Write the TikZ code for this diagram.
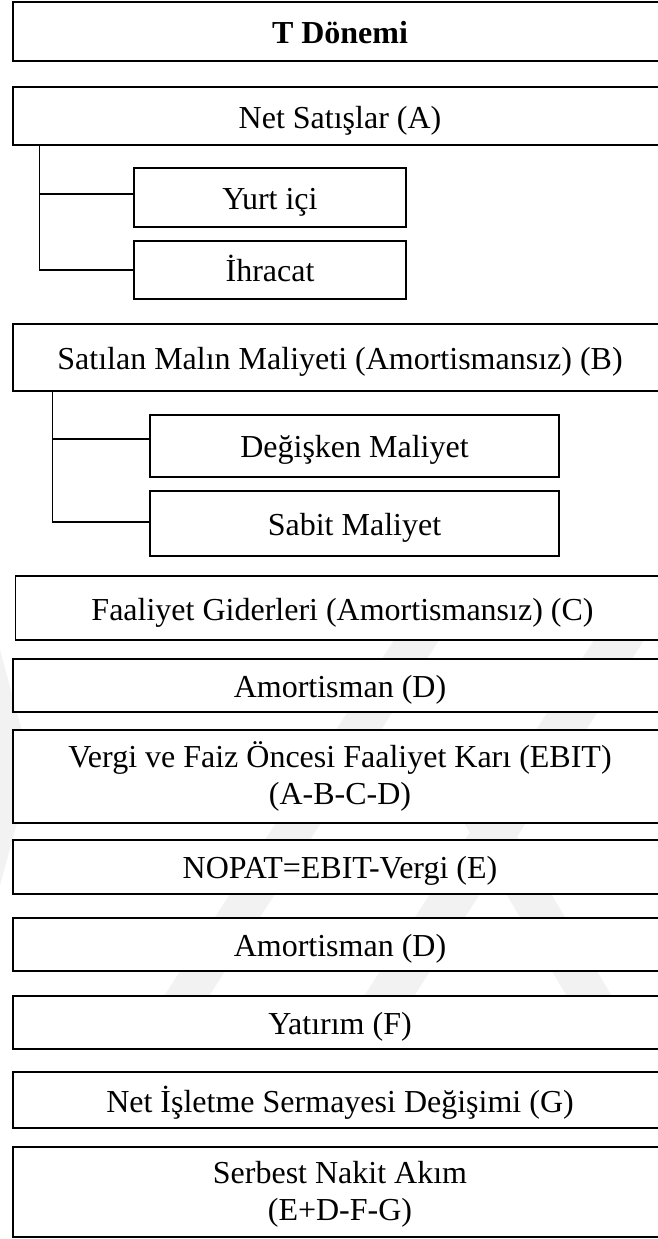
\documentclass[tikz,border=0pt]{standalone}
\usepackage{fontspec}
\setmainfont{Liberation Serif}
\begin{document}
\begin{tikzpicture}[x=1pt,y=-1pt,
  box/.style={draw=black, line width=1.2pt, fill=white, rectangle, inner sep=0pt},
  sub/.style={box, font=\fontsize{32}{37}\selectfont, text height=23pt, text depth=0pt},
  lbl/.style={anchor=base, inner sep=0pt, align=center, font=\fontsize{32}{37}\selectfont},
  link/.style={draw=black, line width=1.1pt},
  mark band/.style={fill=black!5, draw=none}]
\useasboundingbox (0,0) rectangle (658,1239);
\fill[white] (0,0) rectangle (658,1239);

% faint background emblem
\begin{scope}
  \clip (0,600) rectangle (658,1010);
  \fill[mark band] (420,600) -- (465,600) -- (200,1010) -- (155,1010) -- cycle;
  \fill[mark band] (620,600) -- (670,600) -- (405,1010) -- (355,1010) -- cycle;
  \fill[mark band] (415,740) -- (460,740) -- (620,1010) -- (575,1010) -- cycle;
  \fill[mark band] (0,650) -- (32,768) -- (0,885) -- cycle;
\end{scope}

% header
\node[box, minimum width=657pt, minimum height=59pt] (t) at (341.5,31.5) {};
\node[lbl, font=\fontsize{32}{37}\selectfont\bfseries] (tl) at (340,44) {T Dönemi};

% net sales and its parts
\node[box, minimum width=657pt, minimum height=58pt] (a) at (341.5,116) {};
\node[lbl] (al) at (340,128) {Net Satışlar (A)};
\node[sub, minimum width=272pt, minimum height=59pt] (yurt) at (270,197.5) {Yurt içi};
\node[sub, minimum width=272pt, minimum height=58pt] (ihr) at (270,270) {İhracat};
\draw[link] ([xshift=27pt]a.south west) |- ([yshift=3.5pt]yurt.west);
\draw[link] ([xshift=27pt]a.south west) |- (ihr.west);

% cost of goods sold and its parts
\node[box, minimum width=657pt, minimum height=67pt] (b) at (341.5,357.5) {};
\node[lbl] (bl) at (340,369.5) {Satılan Malın Maliyeti (Amortismansız) (B)};
\node[sub, minimum width=409pt, minimum height=62pt] (deg) at (354.5,446) {Değişken Maliyet};
\node[sub, minimum width=409pt, minimum height=65pt] (sab) at (354.5,523.5) {Sabit Maliyet};
\draw[link] ([xshift=40pt]b.south west) |- ([yshift=7pt]deg.west);
\draw[link] ([xshift=40pt]b.south west) |- ([yshift=1.5pt]sab.west);

% remaining items
\node[box, minimum width=654.5pt, minimum height=64pt] (c) at (342.75,608) {};
\node[lbl] (cl) at (342.5,620) {Faaliyet Giderleri (Amortismansız) (C)};

\node[box, minimum width=657pt, minimum height=53pt] (d1) at (341.5,685.5) {};
\node[lbl] (d1l) at (340,697.5) {Amortisman (D)};

\node[box, minimum width=657pt, minimum height=93pt] (ebit) at (341.5,776.5) {};
\node[lbl] (ebitl) at (340,804) {Vergi ve Faiz Öncesi Faaliyet Karı (EBIT)\\(A-B-C-D)};

\node[box, minimum width=657pt, minimum height=54pt] (e) at (341.5,867) {};
\node[lbl] (el) at (340,878.5) {NOPAT=EBIT-Vergi (E)};

\node[box, minimum width=657pt, minimum height=53pt] (d2) at (341.5,944.5) {};
\node[lbl] (d2l) at (340,956.5) {Amortisman (D)};

\node[box, minimum width=657pt, minimum height=53pt] (f) at (341.5,1022.5) {};
\node[lbl] (fl) at (340,1034.5) {Yatırım (F)};

\node[box, minimum width=657pt, minimum height=56pt] (g) at (341.5,1100) {};
\node[lbl] (gl) at (340,1112) {Net İşletme Sermayesi Değişimi (G)};

\node[box, minimum width=657pt, minimum height=90pt] (fcf) at (341.5,1192) {};
\node[lbl] (fcfl) at (340,1220) {Serbest Nakit Akım\\(E+D-F-G)};
\end{tikzpicture}
\end{document}
